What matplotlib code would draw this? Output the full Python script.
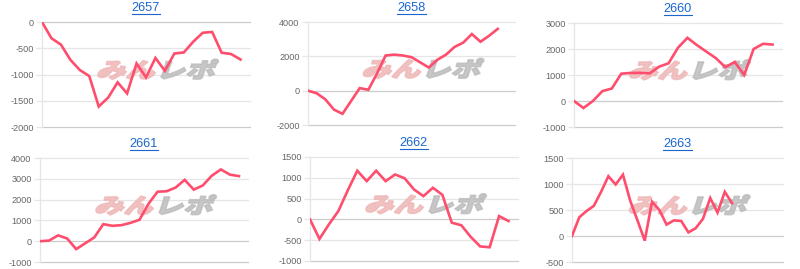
import matplotlib
matplotlib.use("Agg")
import matplotlib.pyplot as plt
from matplotlib.textpath import TextPath
from matplotlib.patches import PathPatch
from matplotlib.font_manager import FontProperties
from matplotlib.transforms import Affine2D
from matplotlib.lines import Line2D

plt.rcParams['font.family'] = ['Liberation Sans', 'DejaVu Sans']

titles = ["2657", "2658", "2660", "2661", "2662", "2663"]

v2657 = [0, -310, -430, -720, -915, -1030, -1610, -1440, -1150, -1360, -790,
         -1055, -685, -930, -600, -580, -375, -205, -190, -585, -610, -715]
v2658 = [0, -150, -500, -1100, -1350, -600, 150, 50, 1000, 2050, 2100, 2050,
         1950, 1650, 1350, 1800, 2100, 2550, 2800, 3300, 2850, 3200, 3600]
v2660 = [0, -270, 0, 380, 480, 1050, 1080, 1080, 1060, 1320, 1450, 2050,
         2430, 2150, 1900, 1650, 1300, 1500, 1000, 2000, 2200, 2170]
v2661 = [0, 30, 280, 130, -380, -100, 180, 820, 740, 770, 880, 1030, 1800,
         2380, 2400, 2580, 2950, 2480, 2680, 3150, 3450, 3200, 3130]
v2662 = [0, -470, -120, 200, 700, 1170, 920, 1170, 920, 1080, 990, 720, 560,
         760, 590, -80, -140, -420, -650, -670, 80, -40]
v2663 = [0, 360, 480, 580, 850, 1150, 990, 1180, 680, 300, -90, 660, 500,
         220, 300, 290, 70, 150, 330, 730, 450, 850, 630]

series = [v2657, v2658, v2660, v2661, v2662, v2663]
slots = [23, 25, 23, 24, 23, 30]
ylims = [(-2000, 0), (-2000, 4000), (-1000, 3000), (-1000, 4000), (-1000, 1500), (-500, 1500)]
ysteps = [500, 2000, 1000, 1000, 500, 500]

# axes boxes in pixels: left, top, right, bottom
boxes = [(42, 22, 250, 127), (308, 22, 515, 125), (574, 23, 782, 127),
         (40, 158, 248, 262), (310, 157, 518, 261), (572, 158, 783, 262)]

W, H = 800, 269
fig = plt.figure(figsize=(W / 100, H / 100), dpi=100)
fig.patch.set_facecolor('white')

line_color = '#ff4d6d'
grid_color = '#e6e6e6'

def watermark(ax):
    fp = FontProperties(family='Noto Sans CJK JP', weight='black')
    cx, cy = ax.transAxes.transform((0.54, 0.55))
    sz = 21
    xs = 1.4
    sk = Affine2D().scale(xs, 1.0).skew_deg(18, 0)
    p1 = TextPath((0, 0), "みん", size=sz, prop=fp)
    p2 = TextPath((0, 0), "レポ", size=sz, prop=fp)
    w1 = p1.get_extents().width * xs
    w2 = p2.get_extents().width * xs
    x0 = cx - (w1 + w2) / 2 - 4
    y0 = cy - sz * 0.4
    t1 = sk + Affine2D().translate(x0, y0)
    t2 = sk + Affine2D().translate(x0 + w1 + 3, y0)
    ax.add_patch(PathPatch(p1, transform=t1, fc='#efb8b8', ec='#efb8b8', lw=1.2,
                           alpha=0.85, zorder=1))
    ax.add_patch(PathPatch(p2, transform=t2, fc='#bdbdbd', ec='#bdbdbd', lw=1.2,
                           alpha=0.85, zorder=1))

axes = []
for i in range(6):
    l, t, r, b = boxes[i]
    ax = fig.add_axes([l / W, 1 - b / H, (r - l) / W, (b - t) / H])
    vals = series[i]
    ax.plot(range(len(vals)), vals, color=line_color, lw=1.9, zorder=3,
            solid_joinstyle='miter')
    lo, hi = ylims[i]
    ax.set_xlim(0, slots[i] - 1)
    ax.set_ylim(lo, hi)
    ticks = list(range(lo, hi + 1, ysteps[i]))
    ax.set_yticks(ticks)
    ax.set_yticklabels([str(v) for v in ticks])
    ax.set_xticks([])
    for v in ticks:
        c = '#cccccc' if v in (0, lo) else grid_color
        ax.axhline(v, color=c, lw=0.9, zorder=0, clip_on=False)
    for s in ['top', 'right', 'bottom']:
        ax.spines[s].set_visible(False)
    ax.spines['left'].set_color(grid_color)
    ax.spines['left'].set_linewidth(0.9)
    ax.tick_params(axis='y', length=4, width=0.9, color=grid_color,
                   labelsize=6.6, labelcolor='#666666', pad=2)
    watermark(ax)
    axes.append(ax)

fig.canvas.draw()
renderer = fig.canvas.get_renderer()
for i, ax in enumerate(axes):
    l, t, r, b = boxes[i]
    cx = (l + r) / 2 / W
    ty = 1 - (t - 14) / H
    txt = fig.text(cx, ty, titles[i], ha='center', va='center', fontsize=9.2,
                   color='#1a66cc')
    fig.canvas.draw()
    bb = txt.get_window_extent(renderer)
    uy = bb.y0 + 0.5
    fig.add_artist(Line2D([bb.x0 / W, bb.x1 / W], [uy / H, uy / H],
                          color='#1a66cc', lw=0.8))

fig.savefig("out.png", dpi=100)
